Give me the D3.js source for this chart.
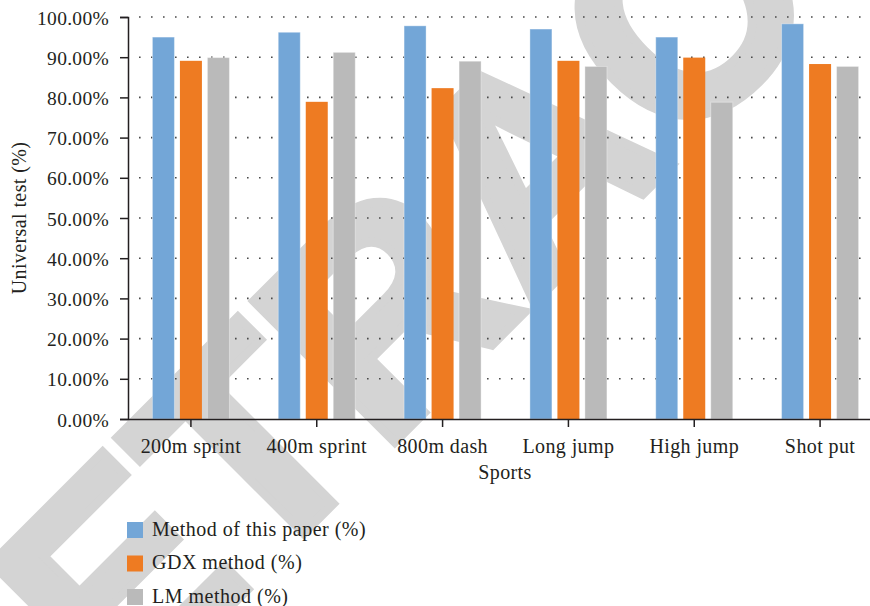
<!DOCTYPE html>
<html>
<head>
<meta charset="utf-8">
<script src="https://cdn.jsdelivr.net/npm/d3@7"></script>
<style>
  html, body { margin: 0; padding: 0; background: #fff; }
  svg { display: block; }
  text { font-family: "Liberation Serif", "Times New Roman", serif; fill: #231f20; }
</style>
</head>
<body>
<svg id="chart" width="870" height="606"></svg>
<script>
// Categories and series values (percent)
const categories = ["200m sprint", "400m sprint", "800m dash", "Long jump", "High jump", "Shot put"];
const seriesNames = ["Method of this paper (%)", "GDX method (%)", "LM method (%)"];
const methodThisPaper = [95.0, 96.2, 97.8, 97.0, 95.0, 98.3];
const gdxMethod = [89.1, 78.9, 82.3, 89.1, 89.9, 88.3];
const lmMethod = [89.9, 91.2, 89.0, 87.7, 78.8, 87.7];
const yTicks = [0, 10, 20, 30, 40, 50, 60, 70, 80, 90, 100];
const colors = ["#73a6d7", "#ee7b22", "#bababa"];

const series = [methodThisPaper, gdxMethod, lmMethod];

const W = 870, H = 606;
const plot = { left: 128, right: 883, top: 17, bottom: 419 };

const svg = d3.select("#chart");

// Background watermark lettering
svg.append("text")
  .attr("transform", "translate(-29,866) rotate(-45)")
  .style("font-family", "'Liberation Sans', Arial, sans-serif")
  .style("font-weight", "bold")
  .style("font-size", "290px")
  .style("fill", "#d4d4d4")
  .style("stroke", "#d4d4d4")
  .style("stroke-width", "9px")
  .style("stroke-linejoin", "miter")
  .text("RETRACTED");

const x = d3.scaleBand().domain(categories).range([plot.left, plot.right]).paddingInner(0).paddingOuter(0);
const x1 = d3.scaleBand().domain(seriesNames).range([-38.5, 38.5]).paddingInner(0.2);
const y = d3.scaleLinear().domain([0, 100]).range([plot.bottom, plot.top]);

// Dotted horizontal gridlines
svg.append("g")
  .selectAll("line")
  .data(yTicks.filter(d => d > 0))
  .join("line")
  .attr("x1", 139).attr("x2", W)
  .attr("y1", d => y(d)).attr("y2", d => y(d))
  .attr("stroke", "#4a4a4a")
  .attr("stroke-width", 1.6)
  .attr("stroke-dasharray", "1.6,10.4");

// Bars
const groups = svg.append("g")
  .selectAll("g")
  .data(categories)
  .join("g")
  .attr("transform", d => `translate(${x(d) + x.bandwidth() / 2},0)`);

groups.selectAll("rect")
  .data((c, i) => seriesNames.map((s, j) => ({ s, j, v: series[j][i] })))
  .join("rect")
  .attr("x", d => x1(d.s))
  .attr("width", x1.bandwidth())
  .attr("y", d => y(d.v))
  .attr("height", d => y(0) - y(d.v))
  .attr("fill", d => colors[d.j])
  .attr("stroke", d => d.j === 1 ? "none" : "#ffffff")
  .attr("stroke-opacity", 0.35)
  .attr("stroke-width", 1);

// Y axis
const yAxis = d3.axisLeft(y)
  .tickValues(yTicks)
  .tickSize(8)
  .tickPadding(11)
  .tickFormat(d => d3.format(".2f")(d) + "%");

const gy = svg.append("g")
  .attr("transform", `translate(${plot.left},0)`)
  .call(yAxis);
gy.select(".domain").attr("stroke", "#231f20").attr("stroke-width", 1.5);
gy.selectAll(".tick line").attr("stroke", "#231f20").attr("stroke-width", 1.5);
gy.selectAll(".tick text")
  .style("font-size", "19.5px")
  .style("letter-spacing", "0.3px")
  .attr("dy", "0.36em")
  .attr("fill", "#231f20");

// X axis
const xAxis = d3.axisBottom(x).tickSize(8).tickSizeOuter(0).tickPadding(12);
const gx = svg.append("g")
  .attr("transform", `translate(0,${plot.bottom})`)
  .call(xAxis);
gx.select(".domain").attr("stroke", "#231f20").attr("stroke-width", 1.5);
gx.selectAll(".tick line").attr("stroke", "#231f20").attr("stroke-width", 1.5);
gx.selectAll(".tick text")
  .style("font-size", "20px")
  .style("letter-spacing", "0.4px")
  .attr("fill", "#231f20");

// Axis titles
svg.append("text")
  .attr("x", 505).attr("y", 479)
  .attr("text-anchor", "middle")
  .style("font-size", "20px")
  .style("letter-spacing", "0.4px")
  .text("Sports");

svg.append("text")
  .attr("transform", "translate(26,218) rotate(-90)")
  .attr("text-anchor", "middle")
  .style("font-size", "20px")
  .style("letter-spacing", "0.4px")
  .text("Universal test (%)");

// Legend
const legend = svg.append("g")
  .selectAll("g")
  .data(seriesNames)
  .join("g")
  .attr("transform", (d, i) => `translate(127,${522 + i * 33.5})`);
legend.append("rect")
  .attr("width", 16).attr("height", 16)
  .attr("fill", (d, i) => colors[i]);
legend.append("text")
  .attr("x", 25).attr("y", 13.5)
  .style("font-size", "20px")
  .style("letter-spacing", "0.5px")
  .text(d => d);
</script>
</body>
</html>
